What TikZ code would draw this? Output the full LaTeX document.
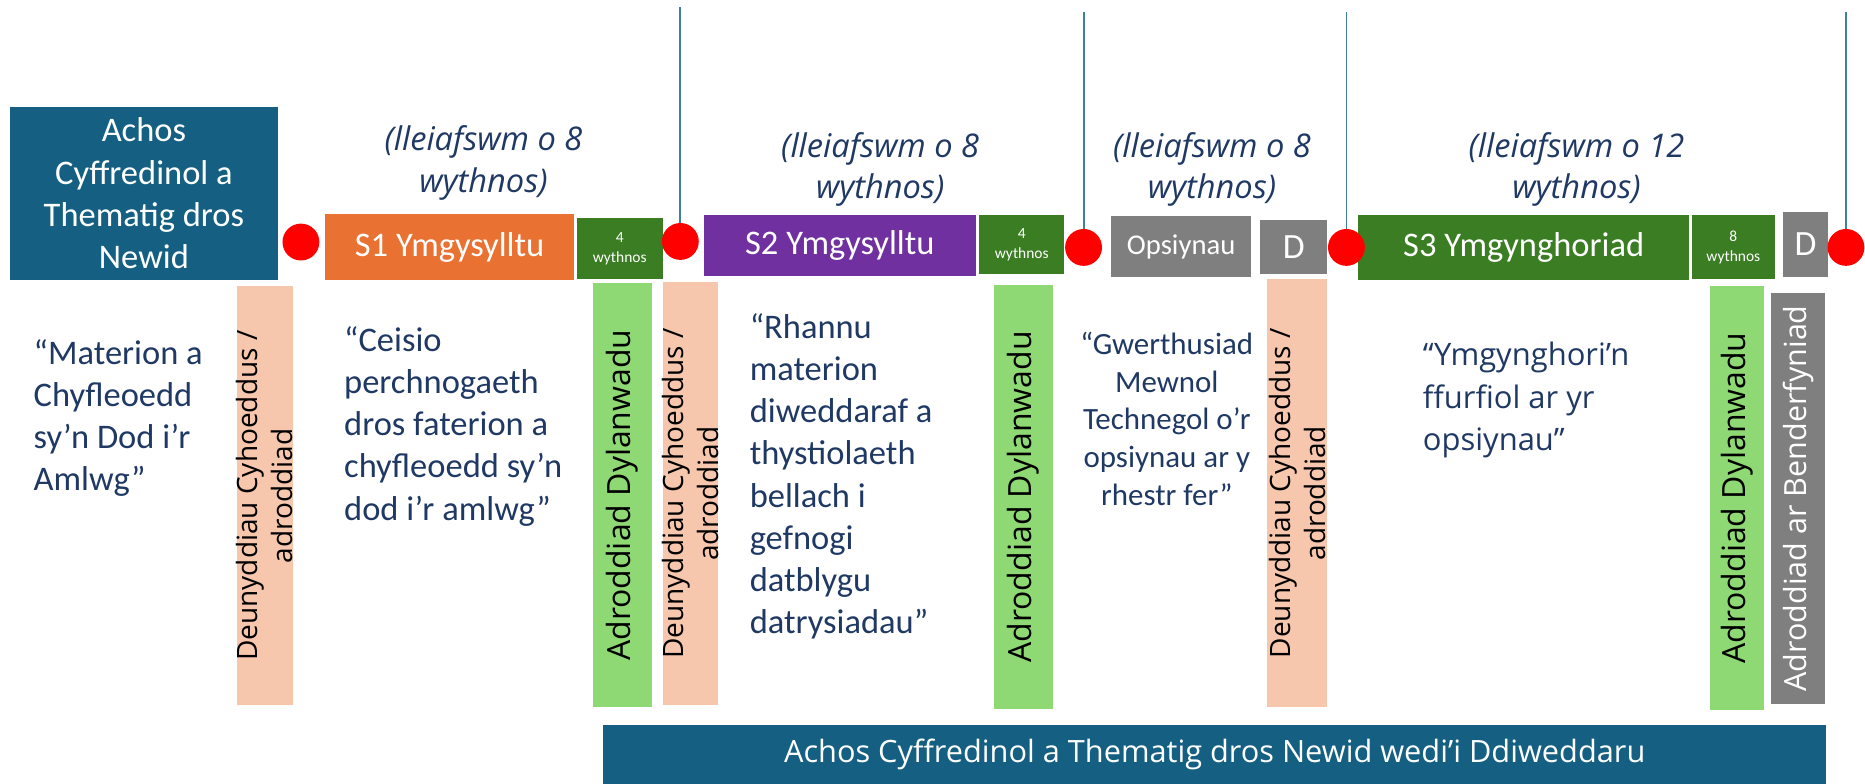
\documentclass[tikz,border=0pt]{standalone}
\usepackage{fontspec}
\setmainfont{Carlito}
\newfontfamily\segoe{Open Sans}

\definecolor{achosblue}{HTML}{156082}
\definecolor{s1orange}{HTML}{E97132}
\definecolor{s2purple}{HTML}{7030A0}
\definecolor{darkgreen}{HTML}{3B7D23}
\definecolor{lightgreen}{HTML}{8ED973}
\definecolor{peach}{HTML}{F6C6AD}
\definecolor{optgray}{HTML}{7F7F7F}
\definecolor{navytxt}{HTML}{1F3864}
\definecolor{gatecol}{RGB}{62,127,166}

\begin{document}
\begin{tikzpicture}[x=2cm,y=-2cm,
  box/.style={fill=#1,text=white,inner sep=0pt,align=center,font=\fontsize{16.5}{20.2}\selectfont},
  wk/.style={box=darkgreen,font=\fontsize{7.4}{9.6}\selectfont},
  reddot/.style={circle,fill=red,minimum size=0.62cm,inner sep=0pt},
  gateline/.style={gatecol,line width=0.9pt},
  duration/.style={text=navytxt,align=center,font=\segoe\itshape\fontsize{15.6}{19.9}\selectfont},
  quotetxt/.style={text=navytxt,inner sep=0pt,align=left,font=\fontsize{16.5}{20.2}\selectfont},
  vbar/.style={fill=#1,rotate=90,inner xsep=0pt,inner ysep=-3pt,align=center,font=\segoe\fontsize{15.3}{17}\selectfont},
  pubbar/.style={vbar=peach,font=\segoe\fontsize{13.4}{17}\selectfont}]
\useasboundingbox (0,0) rectangle (15.68,6.59);

% top row of stages
\node[box=achosblue,minimum width=4.52cm,minimum height=2.9cm] (achos) at (1.21,1.625) {Achos\\Cyffredinol a\\Thematig dros\\Newid};
\node[box=s1orange,minimum width=4.20cm,minimum height=1.11cm] (s1) at (3.78,2.078) {S1 Ymgysylltu};
\node[wk,minimum width=1.44cm,minimum height=1.03cm] (wk1) at (5.21,2.088) {4\\wythnos};
\node[box=s2purple,minimum width=4.58cm,minimum height=1.02cm] (s2) at (7.061,2.065) {S2 Ymgysylltu};
\node[wk,minimum width=1.42cm,minimum height=0.99cm] (wk2) at (8.59,2.058) {4\\wythnos};
\node[box=optgray,minimum width=2.36cm,minimum height=1.02cm,font=\fontsize{13.7}{16}\selectfont] (ops) at (9.93,2.075) {Opsiynau};
\node[box=optgray,minimum width=1.13cm,minimum height=0.92cm,font=\fontsize{17}{18}\selectfont] (d1) at (10.878,2.076) {D};
\node[box=darkgreen,minimum width=5.56cm,minimum height=1.09cm] (s3) at (12.81,2.082) {S3 Ymgynghoriad};
\node[wk,minimum width=1.39cm,minimum height=1.07cm] (wk3) at (14.573,2.077) {8\\wythnos};
\node[box=optgray,minimum width=0.76cm,minimum height=1.10cm,font=\fontsize{17}{18}\selectfont] (d2) at (15.18,2.055) {D};

% milestones
\node[reddot] (m1) at (2.53,2.035) {};
\node[reddot] (m2) at (5.72,2.03) {};
\node[reddot] (m3) at (9.11,2.08) {};
\node[reddot] (m4) at (11.32,2.08) {};
\node[reddot] (m5) at (15.52,2.08) {};
\coordinate (top2) at (5.72,0.06);
\coordinate (top3) at (9.11,0.10);
\coordinate (top4) at (11.32,0.10);
\coordinate (top5) at (15.52,0.10);
\draw[gateline] (m2) -- (top2);
\draw[gateline] (m3) -- (top3);
\draw[gateline] (m4) -- (top4);
\draw[gateline] (m5) -- (top5);

\node[duration] (dur1) at (4.065,1.37) {(lleiafswm o 8\\wythnos)};
\node[duration] (dur2) at (7.40,1.425) {(lleiafswm o 8\\wythnos)};
\node[duration] (dur3) at (10.19,1.425) {(lleiafswm o 8\\wythnos)};
\node[duration] (dur4) at (13.255,1.425) {(lleiafswm o 12\\wythnos)};

% descriptions
\node[quotetxt,anchor=north west] (q1) at (0.28,2.85) {“Materion a\\Chyfleoedd\\sy’n Dod i’r\\Amlwg”};
\node[quotetxt,anchor=north west] (q2) at (2.89,2.74) {“Ceisio\\perchnogaeth\\dros faterion a\\chyfleoedd sy’n\\dod i’r amlwg”};
\node[quotetxt,anchor=north west] (q3) at (6.30,2.63) {“Rhannu\\materion\\diweddaraf a\\thystiolaeth\\bellach i\\gefnogi\\datblygu\\datrysiadau”};
\node[quotetxt,anchor=north,align=center,font=\fontsize{14.8}{18}\selectfont] (q4) at (9.81,2.79) {“Gwerthusiad\\Mewnol\\Technegol o’r\\opsiynau ar y\\rhestr fer”};
\node[quotetxt,anchor=north west,font=\segoe\fontsize{14.8}{20.5}\selectfont] (q5) at (11.96,2.87) {“Ymgynghori’n\\ffurfiol ar yr\\opsiynau”};

% report bars
\node[pubbar,minimum width=7.05cm,minimum height=0.94cm] (pub1) at (2.225,4.1675) {Deunyddiau Cyhoeddus /\\adroddiad};
\node[vbar=lightgreen,minimum width=7.13cm,minimum height=0.99cm] (inf1) at (5.2325,4.163) {Adroddiad Dylanwadu};
\node[pubbar,minimum width=7.12cm,minimum height=0.916cm] (pub2) at (5.806,4.15) {Deunyddiau Cyhoeddus /\\adroddiad};
\node[vbar=lightgreen,minimum width=7.13cm,minimum height=1.0cm] (inf2) at (8.605,4.178) {Adroddiad Dylanwadu};
\node[pubbar,minimum width=7.19cm,minimum height=1.01cm] (pub3) at (10.9075,4.1465) {Deunyddiau Cyhoeddus /\\adroddiad};
\node[vbar=lightgreen,minimum width=7.13cm,minimum height=0.91cm] (inf3) at (14.6025,4.1875) {Adroddiad Dylanwadu};
\node[vbar=optgray,text=white,minimum width=6.92cm,minimum height=0.91cm,font=\segoe\fontsize{14.6}{17}\selectfont] (dec) at (15.1175,4.19) {Adroddiad ar Benderfyniad};

\node[box=achosblue,minimum width=20.57cm,minimum height=0.986cm,font=\segoe\fontsize{14.7}{16}\selectfont] (update) at (10.2125,6.3435) {Achos Cyffredinol a Thematig dros Newid wedi’i Ddiweddaru};
\end{tikzpicture}
\end{document}
